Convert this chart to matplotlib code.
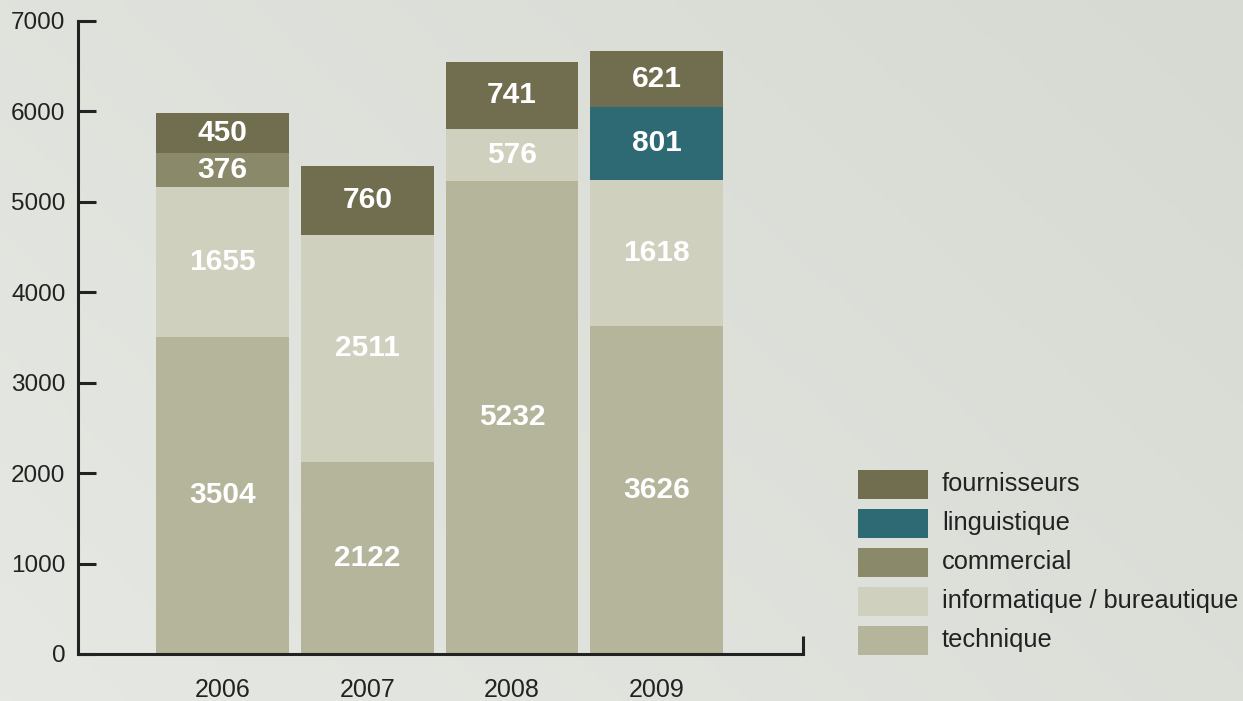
import numpy as np
import matplotlib
matplotlib.use('Agg')
import matplotlib.pyplot as plt
from matplotlib.patches import Rectangle

plt.rcParams['font.family'] = ['Liberation Sans', 'DejaVu Sans']

years = ['2006', '2007', '2008', '2009']
# empilement du bas vers le haut
categories = ['technique', 'informatique / bureautique', 'commercial', 'linguistique', 'fournisseurs']
technique = [3504, 2122, 5232, 3626]
informatique = [1655, 2511, 576, 1618]
commercial = [376, 0, 0, 0]
linguistique = [0, 0, 0, 801]
fournisseurs = [450, 760, 741, 621]
series = [technique, informatique, commercial, linguistique, fournisseurs]
colors = ['#b5b59c', '#d0d0be', '#8a8a6b', '#2e6a74', '#716d4f']
yticks = [0, 1000, 2000, 3000, 4000, 5000, 6000, 7000]

fig = plt.figure(figsize=(12.43, 7.01), dpi=100)
fig.patch.set_facecolor('#dfe2db')

# fond légèrement dégradé
bg = fig.add_axes([0, 0, 1, 1], zorder=-10)
gx, gy = np.meshgrid(np.linspace(0, 1, 200), np.linspace(0, 1, 120))
grad = 0.5 * gx + 0.3 * (1 - gy)
bg.imshow(grad, cmap=matplotlib.colors.LinearSegmentedColormap.from_list(
    'bg', ['#e6e8e3', '#d6dad2']), aspect='auto', extent=[0, 1, 0, 1])
bg.axis('off')

ax = fig.add_axes([78 / 1243, 1 - 654 / 701, (803 - 78) / 1243, (654 - 20.7) / 701])
ax.patch.set_alpha(0)

x = np.arange(len(years))
width = 0.917
bottom = np.zeros(len(years))
for vals, col in zip(series, colors):
    vals = np.array(vals, dtype=float)
    ax.bar(x, vals, width, bottom=bottom, color=col, edgecolor='none', zorder=2)
    for xi, v, b in zip(x, vals, bottom):
        if v > 0:
            ax.text(xi, b + v / 2, f'{int(v)}', ha='center', va='center',
                    color='white', fontsize=21.5, fontweight='bold', zorder=3)
    bottom += vals

ax.set_xlim(-1.0, 4.01)
ax.set_ylim(0, 7000)
ax.set_yticks(yticks)
ax.set_yticklabels([str(t) for t in yticks], fontsize=17.5, color='#222222')
ax.tick_params(axis='y', direction='in', length=13, width=2.2, color='#222222', pad=9)
ax.set_xticks(x)
ax.set_xticklabels(years, fontsize=18, color='#222222')
ax.tick_params(axis='x', length=0, pad=17)
for s in ['top', 'right']:
    ax.spines[s].set_visible(False)
for s in ['left', 'bottom']:
    ax.spines[s].set_linewidth(2.2)
    ax.spines[s].set_color('#222222')
# petit trait vertical à droite de l'axe des x
ax.plot([4.01, 4.01], [0, 200], color='#222222', lw=2.2, clip_on=False,
        solid_capstyle='butt')

# légende (du haut vers le bas)
for i, (lab, col) in enumerate(zip(categories[::-1], colors[::-1])):
    yc = 484 + 39 * i
    fig.add_artist(Rectangle((858 / 1243, 1 - (yc + 14.5) / 701), 70 / 1243, 29 / 701,
                             transform=fig.transFigure, color=col, lw=0))
    fig.text(942 / 1243, 1 - yc / 701, lab, fontsize=18.3, color='#222222',
             ha='left', va='center')

fig.savefig('out.png', dpi=100, facecolor=fig.get_facecolor())
